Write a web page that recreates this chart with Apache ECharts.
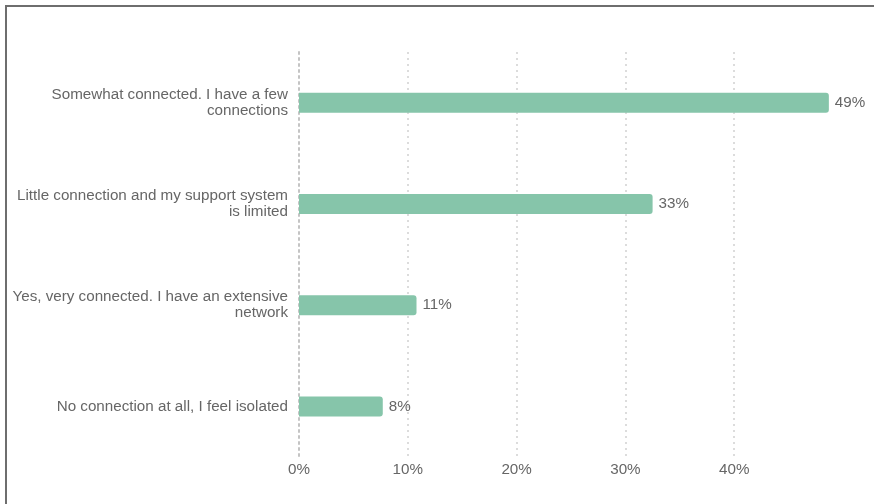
<!DOCTYPE html>
<html>
<head>
<meta charset="utf-8">
<script src="https://cdn.jsdelivr.net/npm/echarts@6/dist/echarts.min.js"></script>
<style>
  html, body { margin: 0; padding: 0; background: #fff; }
  #frame { position: absolute; left: 5px; top: 5px; width: 869px; height: 499px;
           border-top: 2px solid #6e6e6e; border-left: 2px solid #6e6e6e; box-sizing: border-box; }
  #chart { position: absolute; left: 0; top: 0; width: 874px; height: 504px; }
</style>
</head>
<body>
<div id="frame"></div>
<div id="chart"></div>
<script>
const categories = [
  "Somewhat connected. I have a few connections",
  "Little connection and my support system is limited",
  "Yes, very connected. I have an extensive network",
  "No connection at all, I feel isolated"
];
const values = [48.7, 32.5, 10.8, 7.7];
const tickValues = [0, 10, 20, 30, 40];

const FONT = '"Liberation Sans", Arial, Helvetica, sans-serif';
const FS = 15.2;
const measureCtx = document.createElement('canvas').getContext('2d');
measureCtx.font = FS + 'px ' + FONT;
function wrapLabel(text, maxW) {
  const words = text.split(' ');
  const lines = [];
  let cur = '';
  for (const w of words) {
    const test = cur ? cur + ' ' + w : w;
    if (cur && measureCtx.measureText(test).width > maxW) {
      lines.push(cur);
      cur = w;
    } else {
      cur = test;
    }
  }
  if (cur) lines.push(cur);
  return lines.join('\n');
}

const chart = echarts.init(document.getElementById('chart'), null, { renderer: 'canvas' });
chart.setOption({
  animation: false,
  backgroundColor: 'transparent',
  grid: { left: 299, right: 31, top: 52, bottom: 47, containLabel: false },
  xAxis: {
    type: 'value',
    min: 0,
    max: 50,
    interval: 10,
    axisLine: { show: false },
    axisTick: { show: false },
    axisLabel: {
      showMaxLabel: false,
      margin: 5,
      color: '#666',
      fontSize: FS,
      fontFamily: FONT,
      formatter: v => tickValues.includes(v) ? v + '%' : ''
    },
    splitLine: {
      show: true,
      showMinLine: false,
      showMaxLine: false,
      lineStyle: { color: '#dcdcdc', width: 2, type: [2, 4] }
    }
  },
  yAxis: {
    type: 'category',
    inverse: true,
    data: categories,
    axisTick: { show: false },
    axisLine: { show: true, lineStyle: { color: '#c4c4c4', width: 2, type: [2, 4] } },
    axisLabel: {
      margin: 11,
      color: '#666',
      fontSize: FS,
      lineHeight: 16,
      fontFamily: FONT,
      align: 'right',
      formatter: v => wrapLabel(v, 282)
    }
  },
  series: [{
    type: 'bar',
    data: values,
    barWidth: 20,
    itemStyle: { color: '#86c5aa', borderRadius: [0, 3, 3, 0] },
    label: {
      show: true,
      position: 'right',
      distance: 6,
      color: '#666',
      fontSize: FS,
      fontFamily: FONT,
      formatter: p => Math.round(p.value) + '%'
    }
  }]
});
</script>
</body>
</html>
